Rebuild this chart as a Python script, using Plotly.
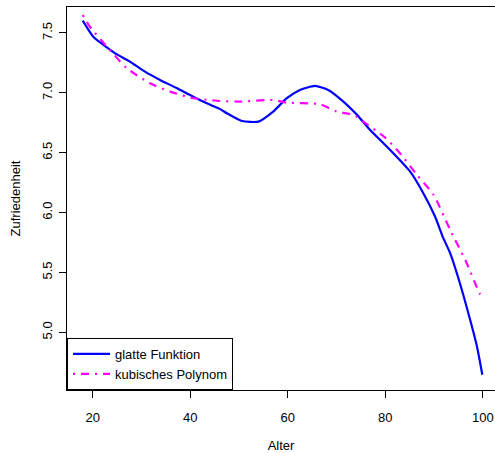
import plotly.graph_objects as go

# Smooth function (blue)
smooth_x = [17.95, 20.1, 22.2, 24.6, 27.65, 30.7, 33.8, 37.2, 40.6, 44.1, 46.2, 47.5,
            50.6, 54.0, 57.0, 59.8, 62.5, 65.6, 68.3, 71.4, 74.2, 76.9, 81.0, 85.1,
            87.8, 90.2, 91.9, 93.3, 95.3, 97.4, 98.8, 99.9]
smooth_y = [7.603, 7.469, 7.40, 7.33, 7.26, 7.177, 7.108, 7.04, 6.968, 6.90, 6.862, 6.83,
            6.765, 6.76, 6.843, 6.955, 7.024, 7.058, 7.024, 6.927, 6.816, 6.69, 6.523, 6.342,
            6.162, 5.967, 5.786, 5.661, 5.41, 5.104, 4.881, 4.645]

# Cubic polynomial (magenta)
poly_x = [17.95, 19.4, 23.5, 27.0, 31.75, 35.9, 40.6, 44.1, 46.1, 50.2, 57.0, 59.8,
          66.6, 70.05, 73.5, 75.5, 80.0, 83.0, 86.5, 89.9, 93.3, 96.7, 99.3, 99.9]
poly_y = [7.65, 7.553, 7.358, 7.205, 7.08, 7.01, 6.955, 6.94, 6.932, 6.927, 6.94, 6.918,
          6.905, 6.843, 6.816, 6.76, 6.625, 6.496, 6.315, 6.148, 5.856, 5.578, 5.327, 5.29]

x_ticks = [20, 40, 60, 80, 100]
y_ticks = [5.0, 5.5, 6.0, 6.5, 7.0, 7.5]

FONT = "Liberation Sans, Arial, sans-serif"
FS = 13

fig = go.Figure()
fig.add_trace(go.Scatter(x=smooth_x, y=smooth_y, mode="lines", name="glatte Funktion",
                         line=dict(color="#0000FF", width=2.2, shape="spline", smoothing=0.6)))
fig.add_trace(go.Scatter(x=poly_x, y=poly_y, mode="lines", name="kubisches Polynom",
                         line=dict(color="#FF00FF", width=2.2, dash="2px,6px,8px,6px",
                                   shape="spline", smoothing=0.6)))

fig.update_layout(
    width=495, height=453,
    margin=dict(l=67, r=0, t=7, b=63, autoexpand=False),
    paper_bgcolor="white", plot_bgcolor="white",
    font=dict(family=FONT, size=FS, color="black"),
    showlegend=True,
    legend=dict(x=0, y=0, xanchor="left", yanchor="bottom",
                bordercolor="black", borderwidth=1, bgcolor="white",
                font=dict(family=FONT, size=FS, color="black"),
                tracegroupgap=0, itemwidth=37),
    xaxis=dict(range=[14.72, 102.5], tickvals=x_ticks, ticktext=[str(v) for v in x_ticks],
               showgrid=False, zeroline=False, showline=True, mirror=True,
               linecolor="black", linewidth=1, ticks="outside", ticklen=7,
               tickcolor="black", tickfont=dict(size=FS), automargin=False,
               ticklabelstandoff=8,
               title=dict(text="Alter", font=dict(size=FS), standoff=18)),
    yaxis=dict(range=[4.518, 7.717], tickvals=y_ticks, ticktext=[f"{v:.1f}" for v in y_ticks],
               showgrid=False, zeroline=False, showline=True, mirror=False,
               linecolor="black", linewidth=1, ticks="outside", ticklen=7,
               tickcolor="black", tickangle=-90, tickfont=dict(size=FS), automargin=False,
               ticklabelstandoff=2,
               title=dict(text="Zufriedenheit", font=dict(size=FS), standoff=16)),
)

fig.write_html("out.html", config={"displayModeBar": False},
               post_script="document.body.style.margin='0';")
